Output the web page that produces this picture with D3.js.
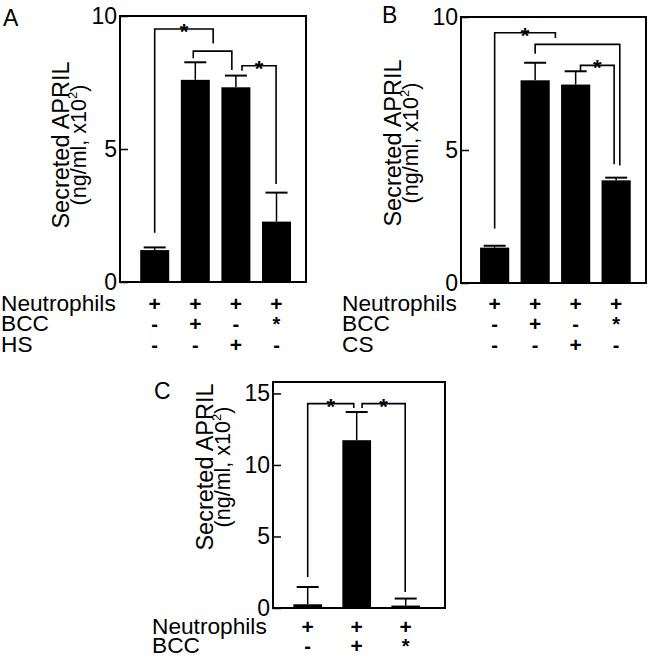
<!DOCTYPE html>
<html><head><meta charset="utf-8">
<script src="https://cdn.jsdelivr.net/npm/d3@7"></script>
<style>
body{margin:0;background:#fff}
text{font-family:"Liberation Sans",Arial,Helvetica,sans-serif;fill:#000}
</style>
</head><body>
<svg id="chart" width="650" height="658"></svg>
<script>
// ---------- data ----------
const rowLabelsA = ["Neutrophils", "BCC", "HS"];
const signsA = [["+","+","+","+"], ["-","+","-","*"], ["-","-","+","-"]];
const valuesA = [1.2, 7.6, 7.32, 2.27];
const errorsA = [0.1, 0.66, 0.44, 1.09];
// [x1 index, x2 index, top value, left leg bottom, right leg bottom, star]
const bracketsA = [[0, 1.44, 9.51, 1.85, 8.97, true], [0.95, 1.9, 8.68, 8.41, 7.97, false], [2.15, 2.99, 8.13, 7.94, 3.68, true]];
const ticksA = [0, 5, 10];

const rowLabelsB = ["Neutrophils", "BCC", "CS"];
const signsB = [["+","+","+","+"], ["-","+","-","*"], ["-","-","+","-"]];
const valuesB = [1.33, 7.62, 7.46, 3.86];
const errorsB = [0.07, 0.66, 0.5, 0.1];
const bracketsB = [[0, 1.5, 9.41, 2.05, 9.21, true], [1.0, 3.09, 8.97, 8.62, 4.42, false], [2.12, 2.95, 8.18, 7.96, 4.46, true]];
const ticksB = [0, 5, 10];

const rowLabelsC = ["Neutrophils", "BCC"];
const signsC = [["+","+","+"], ["-","+","*"]];
const valuesC = [0.26, 11.73, 0.17];
const errorsC = [1.21, 1.97, 0.49];
const bracketsC = [[0, 0.94, 14.29, 2.17, 13.99, true], [1.11, 1.99, 14.29, 13.99, 1.12, true]];
const ticksC = [0, 5, 10, 15];

const titleLine1 = "Secreted APRIL";
const titleLine2a = "(ng/ml, x10";
const titleSup = "2";
const titleLine2b = ")";

// ---------- drawing ----------
const svg = d3.select("#chart");

function panel(cfg) {
  const g = svg.append("g");
  const n = cfg.values.length;
  const x = d3.scaleBand().domain(d3.range(n)).range([cfg.bandStart, cfg.bandEnd])
    .paddingInner(cfg.padInner).paddingOuter(cfg.padInner / 2);
  const y = d3.scaleLinear().domain([0, cfg.yMax]).range([cfg.bottom, cfg.top]);
  const step = x.step();
  const cx = i => x(0) + x.bandwidth() / 2 + i * step;

  // bars
  g.selectAll("rect.bar").data(cfg.values).join("rect")
    .attr("x", (d, i) => x(i)).attr("width", x.bandwidth())
    .attr("y", d => y(d)).attr("height", d => y(0) - y(d)).attr("fill", "#000");

  // error bars (upper only)
  cfg.values.forEach((v, i) => {
    const c = cx(i), t = y(v + cfg.errors[i]);
    g.append("line").attr("x1", c).attr("x2", c).attr("y1", y(v)).attr("y2", t)
      .attr("stroke", "#000").attr("stroke-width", 1.5);
    g.append("line").attr("x1", c - 11).attr("x2", c + 11).attr("y1", t).attr("y2", t)
      .attr("stroke", "#000").attr("stroke-width", 2);
  });

  // frame
  g.append("rect").attr("x", cfg.left).attr("y", cfg.top)
    .attr("width", cfg.right - cfg.left).attr("height", cfg.bottom - cfg.top)
    .attr("fill", "none").attr("stroke", "#000").attr("stroke-width", 2);

  // y axis: inward ticks
  const axis = d3.axisLeft(y).tickValues(cfg.ticks).tickSize(-8).tickPadding(12).tickFormat(d3.format("d"));
  const ag = g.append("g").attr("transform", `translate(${cfg.left},0)`).call(axis);
  ag.select(".domain").remove();
  ag.selectAll(".tick line").attr("stroke", "#000").attr("stroke-width", 1.5);
  ag.selectAll(".tick text").attr("font-size", 23).attr("fill", "#000")
    .attr("x", -3).attr("font-family", '"Liberation Sans",Arial,sans-serif');

  // brackets
  cfg.brackets.forEach(b => {
    const [i1, i2, top, b1, b2, star] = b;
    const x1 = cx(i1), x2 = cx(i2), yt = y(top);
    g.append("path").attr("d", `M${x1},${y(b1)}V${yt}H${x2}V${y(b2)}`)
      .attr("fill", "none").attr("stroke", "#000").attr("stroke-width", 1.6);
    if (star) {
      g.append("text").attr("x", (x1 + x2) / 2).attr("y", yt + 10)
        .attr("text-anchor", "middle").attr("font-size", 22).attr("font-weight", "bold").text("*");
    }
  });

  // y title
  const tg = g.append("g").attr("transform", `translate(${cfg.titleX},${cfg.titleY}) rotate(-90)`);
  tg.append("text").attr("text-anchor", "middle").attr("font-size", 23.5).text(titleLine1);
  const t2 = tg.append("text").attr("text-anchor", "middle").attr("y", 17).attr("font-size", 21.5);
  t2.append("tspan").text(titleLine2a);
  t2.append("tspan").attr("font-size", 13).attr("dy", -9).text(titleSup);
  t2.append("tspan").attr("dy", 9).text(titleLine2b);

  // panel letter
  g.append("text").attr("x", cfg.letterX).attr("y", cfg.letterY).attr("font-size", 23).text(cfg.letter);

  // condition rows
  cfg.rowLabels.forEach((lab, r) => {
    const yy = cfg.rowY + r * cfg.rowStep;
    g.append("text").attr("x", cfg.labelX).attr("y", yy).attr("font-size", 22.7).text(lab);
    cfg.signs[r].forEach((s, i) => {
      g.append("text").attr("x", cx(i)).attr("y", yy).attr("text-anchor", "middle")
        .attr("font-size", s === "+" ? 21 : 20).attr("font-weight", "bold").text(s);
    });
  });
}

panel({
  values: valuesA, errors: errorsA, brackets: bracketsA, ticks: ticksA,
  rowLabels: rowLabelsA, signs: signsA, letter: "A",
  left: 120, right: 306, top: 16, bottom: 282, yMax: 10,
  bandStart: 134.4, bandEnd: 296.8, padInner: 0.286,
  titleX: 69, titleY: 145, letterX: 3, letterY: 26,
  labelX: 1, rowY: 311, rowStep: 20.3
});
panel({
  values: valuesB, errors: errorsB, brackets: bracketsB, ticks: ticksB,
  rowLabels: rowLabelsB, signs: signsB, letter: "B",
  left: 461, right: 646, top: 17, bottom: 283, yMax: 10,
  bandStart: 474.4, bandEnd: 636.4, padInner: 0.28,
  titleX: 401, titleY: 143, letterX: 382, letterY: 23,
  labelX: 342, rowY: 311, rowStep: 20.3
});
panel({
  values: valuesC, errors: errorsC, brackets: bracketsC, ticks: ticksC,
  rowLabels: rowLabelsC, signs: signsC, letter: "C",
  left: 273, right: 445, top: 382, bottom: 608, yMax: 15.8,
  bandStart: 283.2, bandEnd: 430.2, padInner: 0.414,
  titleX: 213, titleY: 467, letterX: 154, letterY: 399,
  labelX: 152, rowY: 633.5, rowStep: 19
});
</script>
</body></html>
